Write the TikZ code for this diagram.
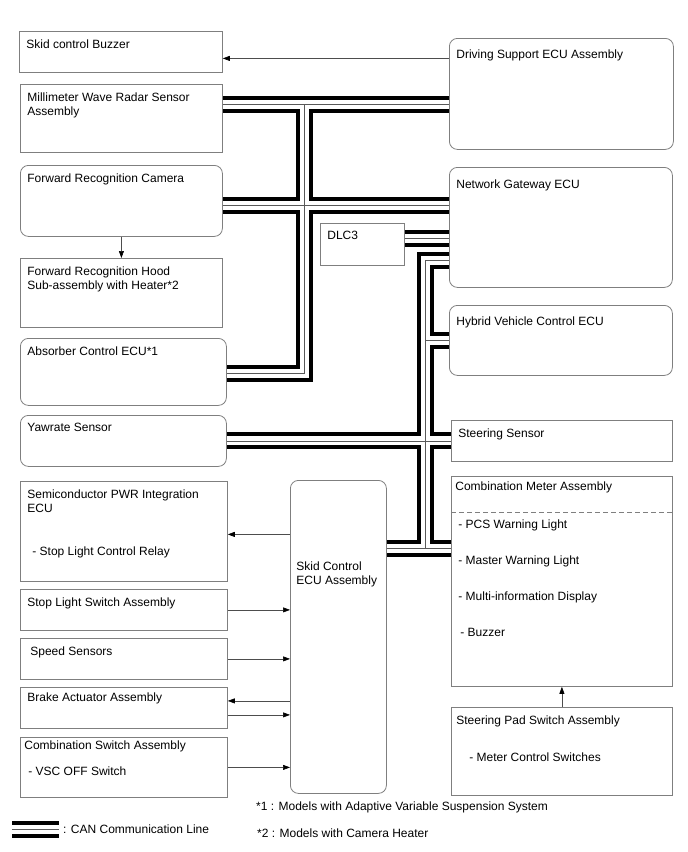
\documentclass[tikz,border=0pt]{standalone}
\usepackage{fontspec}
\setmainfont{Liberation Sans}
\usetikzlibrary{arrows.meta}

\definecolor{BoxGray}{HTML}{7F7F7F}
\definecolor{LineGray}{HTML}{4D4D4D}

% text block pinned to the top left of a box of given outer size
\newcommand{\ubox}[3]{\parbox[t][\dimexpr#2-16pt\relax][t]{\dimexpr#1-14pt\relax}{\raggedright#3}}

\tikzset{
    unit/.style={
        draw=BoxGray,
        line width=0.8pt,
        anchor=north west,
        inner xsep=7pt,
        inner ysep=8pt,
        font=\fontsize{12}{14}\selectfont
    },
    runit/.style={
        unit,
        rounded corners=8pt
    },
    sig/.style={
        -{Triangle[length=7pt,width=5pt,color=black]},
        draw=LineGray,
        line width=0.6pt
    },
    canbase/.style={line width=17pt, black},
    cangap/.style={line width=9pt, white},
    cancore/.style={line width=0.8pt, black!65},
    note/.style={
        anchor=west,
        inner sep=0pt,
        font=\fontsize{12}{14}\selectfont
    }
}

\begin{document}
\begin{tikzpicture}[x=1pt, y=-1pt]
    \useasboundingbox (0,0) rectangle (688,852);

    % left column
    \node[unit] (buzzer) at (19,31) {\ubox{203pt}{41pt}{Skid control Buzzer}};
    \node[unit] (mmw) at (20,84) {\ubox{202pt}{68pt}{Millimeter Wave Radar Sensor\\Assembly}};
    \node[runit] (cam) at (20,165) {\ubox{202pt}{71pt}{Forward Recognition Camera}};
    \node[unit] (hood) at (20,258) {\ubox{202pt}{69pt}{Forward Recognition Hood\\Sub-assembly with Heater*2}};
    \node[runit] (absorb) at (20,338) {\ubox{206pt}{67pt}{Absorber Control ECU*1}};
    \node[runit] (yaw) at (20,415) {\ubox{206pt}{51pt}{Yawrate Sensor}};
    \node[unit] (semi) at (20,481) {\ubox{207pt}{100pt}{Semiconductor PWR Integration\\ECU\\[29pt]\hspace*{5pt}- Stop Light Control Relay}};
    \node[unit] (stopsw) at (20,589) {\ubox{207pt}{41pt}{Stop Light Switch Assembly}};
    \node[unit] (speed) at (20,638) {\ubox{207pt}{41pt}{\hspace*{3pt}Speed Sensors}};
    \node[unit] (brake) at (20,687) {\ubox{207pt}{41pt}{\vspace*{-3pt}Brake Actuator Assembly}};
    \node[unit] (combsw) at (20,737) {\ubox{207pt}{60pt}{\vspace*{-5pt}\hspace*{-3pt}Combination Switch Assembly\\[12pt]\hspace*{1pt}- VSC OFF Switch}};

    % middle
    \node[runit] (skid) at (290,480) {\ubox{96pt}{313pt}{\vspace*{73pt}\hspace*{-1pt}Skid Control\\\hspace*{-1pt}ECU Assembly}};
    \node[unit] (dlc) at (320,223) {\ubox{84pt}{42pt}{DLC3}};

    % right column
    \node[runit] (drive) at (449,38) {\ubox{224pt}{111pt}{\vspace*{3pt}Driving Support ECU Assembly}};
    \node[runit] (gw) at (449,167) {\ubox{223pt}{120pt}{\vspace*{4pt}Network Gateway ECU}};
    \node[runit] (hv) at (449,305) {\ubox{223pt}{70pt}{\vspace*{3pt}Hybrid Vehicle Control ECU}};
    \node[unit] (steer) at (451,420) {\ubox{221pt}{41pt}{Steering Sensor}};
    \node[unit] (meter) at (451,476) {\ubox{221pt}{210pt}{\vspace*{-3pt}\hspace*{-3pt}Combination Meter Assembly\\[24pt]- PCS Warning Light\\[22pt]- Master Warning Light\\[22pt]- Multi-information Display\\[22pt]\hspace*{2pt}- Buzzer}};
    \node[unit] (pad) at (451,707) {\ubox{221pt}{88pt}{\hspace*{-2pt}Steering Pad Switch Assembly\\[23pt]\hspace*{11pt}- Meter Control Switches}};
    \draw[BoxGray, line width=0.6pt, dash pattern=on 5pt off 3pt] ([yshift=-36pt]meter.north west) -- ([yshift=-36pt]meter.north east);

    % signal lines
    \coordinate (bzIn) at ([yshift=-6.5pt]buzzer.east);
    \coordinate (semiIn) at ([yshift=-3pt]semi.east);
    \coordinate (brkOut) at ([yshift=7pt]brake.east);
    \coordinate (brkIn) at ([yshift=-7pt]brake.east);
    \draw[sig] (drive.west |- bzIn) -- (bzIn);
    \draw[sig] (cam.south) -- (hood.north);
    \draw[sig] (skid.west |- semiIn) -- (semiIn);
    \draw[sig] (stopsw.east) -- (stopsw.east -| skid.west);
    \draw[sig] (speed.east) -- (speed.east -| skid.west);
    \draw[sig] (skid.west |- brkOut) -- (brkOut);
    \draw[sig] (brkIn) -- (brkIn -| skid.west);
    \draw[sig] (combsw.east) -- (combsw.east -| skid.west);
    \draw[sig] (pad.north) -- (meter.south);

    % CAN bus junctions
    \coordinate (jA) at (304,104.5);
    \coordinate (jB) at (304,205);
    \coordinate (jC) at (304,373);
    \coordinate (jD) at (425,238.5);
    \coordinate (jE) at (425,260);
    \coordinate (jF) at (hv.west -| jE);
    \coordinate (jG) at (steer.west -| jE);
    \coordinate (jH) at (425,548);
    \coordinate (lgA) at (12,829);
    \coordinate (lgB) at (59,829);

    \foreach \layer in {canbase,cangap,cancore}{
        \draw[\layer] (mmw.east |- jA) -- (drive.west |- jA)
            (jA) -- (jC) -- (absorb.east |- jC)
            (cam.east |- jB) -- (gw.west |- jB)
            (dlc.east |- jD) -- (gw.west |- jD)
            (gw.west |- jE) -- (jE) -- (jH)
            (jF) -- (hv.west |- jF)
            (yaw.east |- jG) -- (steer.west |- jG)
            (skid.east |- jH) -- (meter.west |- jH)
            (lgA) -- (lgB);
    }

    % legend and notes
    \node[note] (legend) at ([xshift=4pt]lgB) {: CAN Communication Line};
    \node[note] (fn1) at (256,807) {*1 : Models with Adaptive Variable Suspension System};
    \node[note] (fn2) at (257,833) {*2 : Models with Camera Heater};
\end{tikzpicture}
\end{document}
